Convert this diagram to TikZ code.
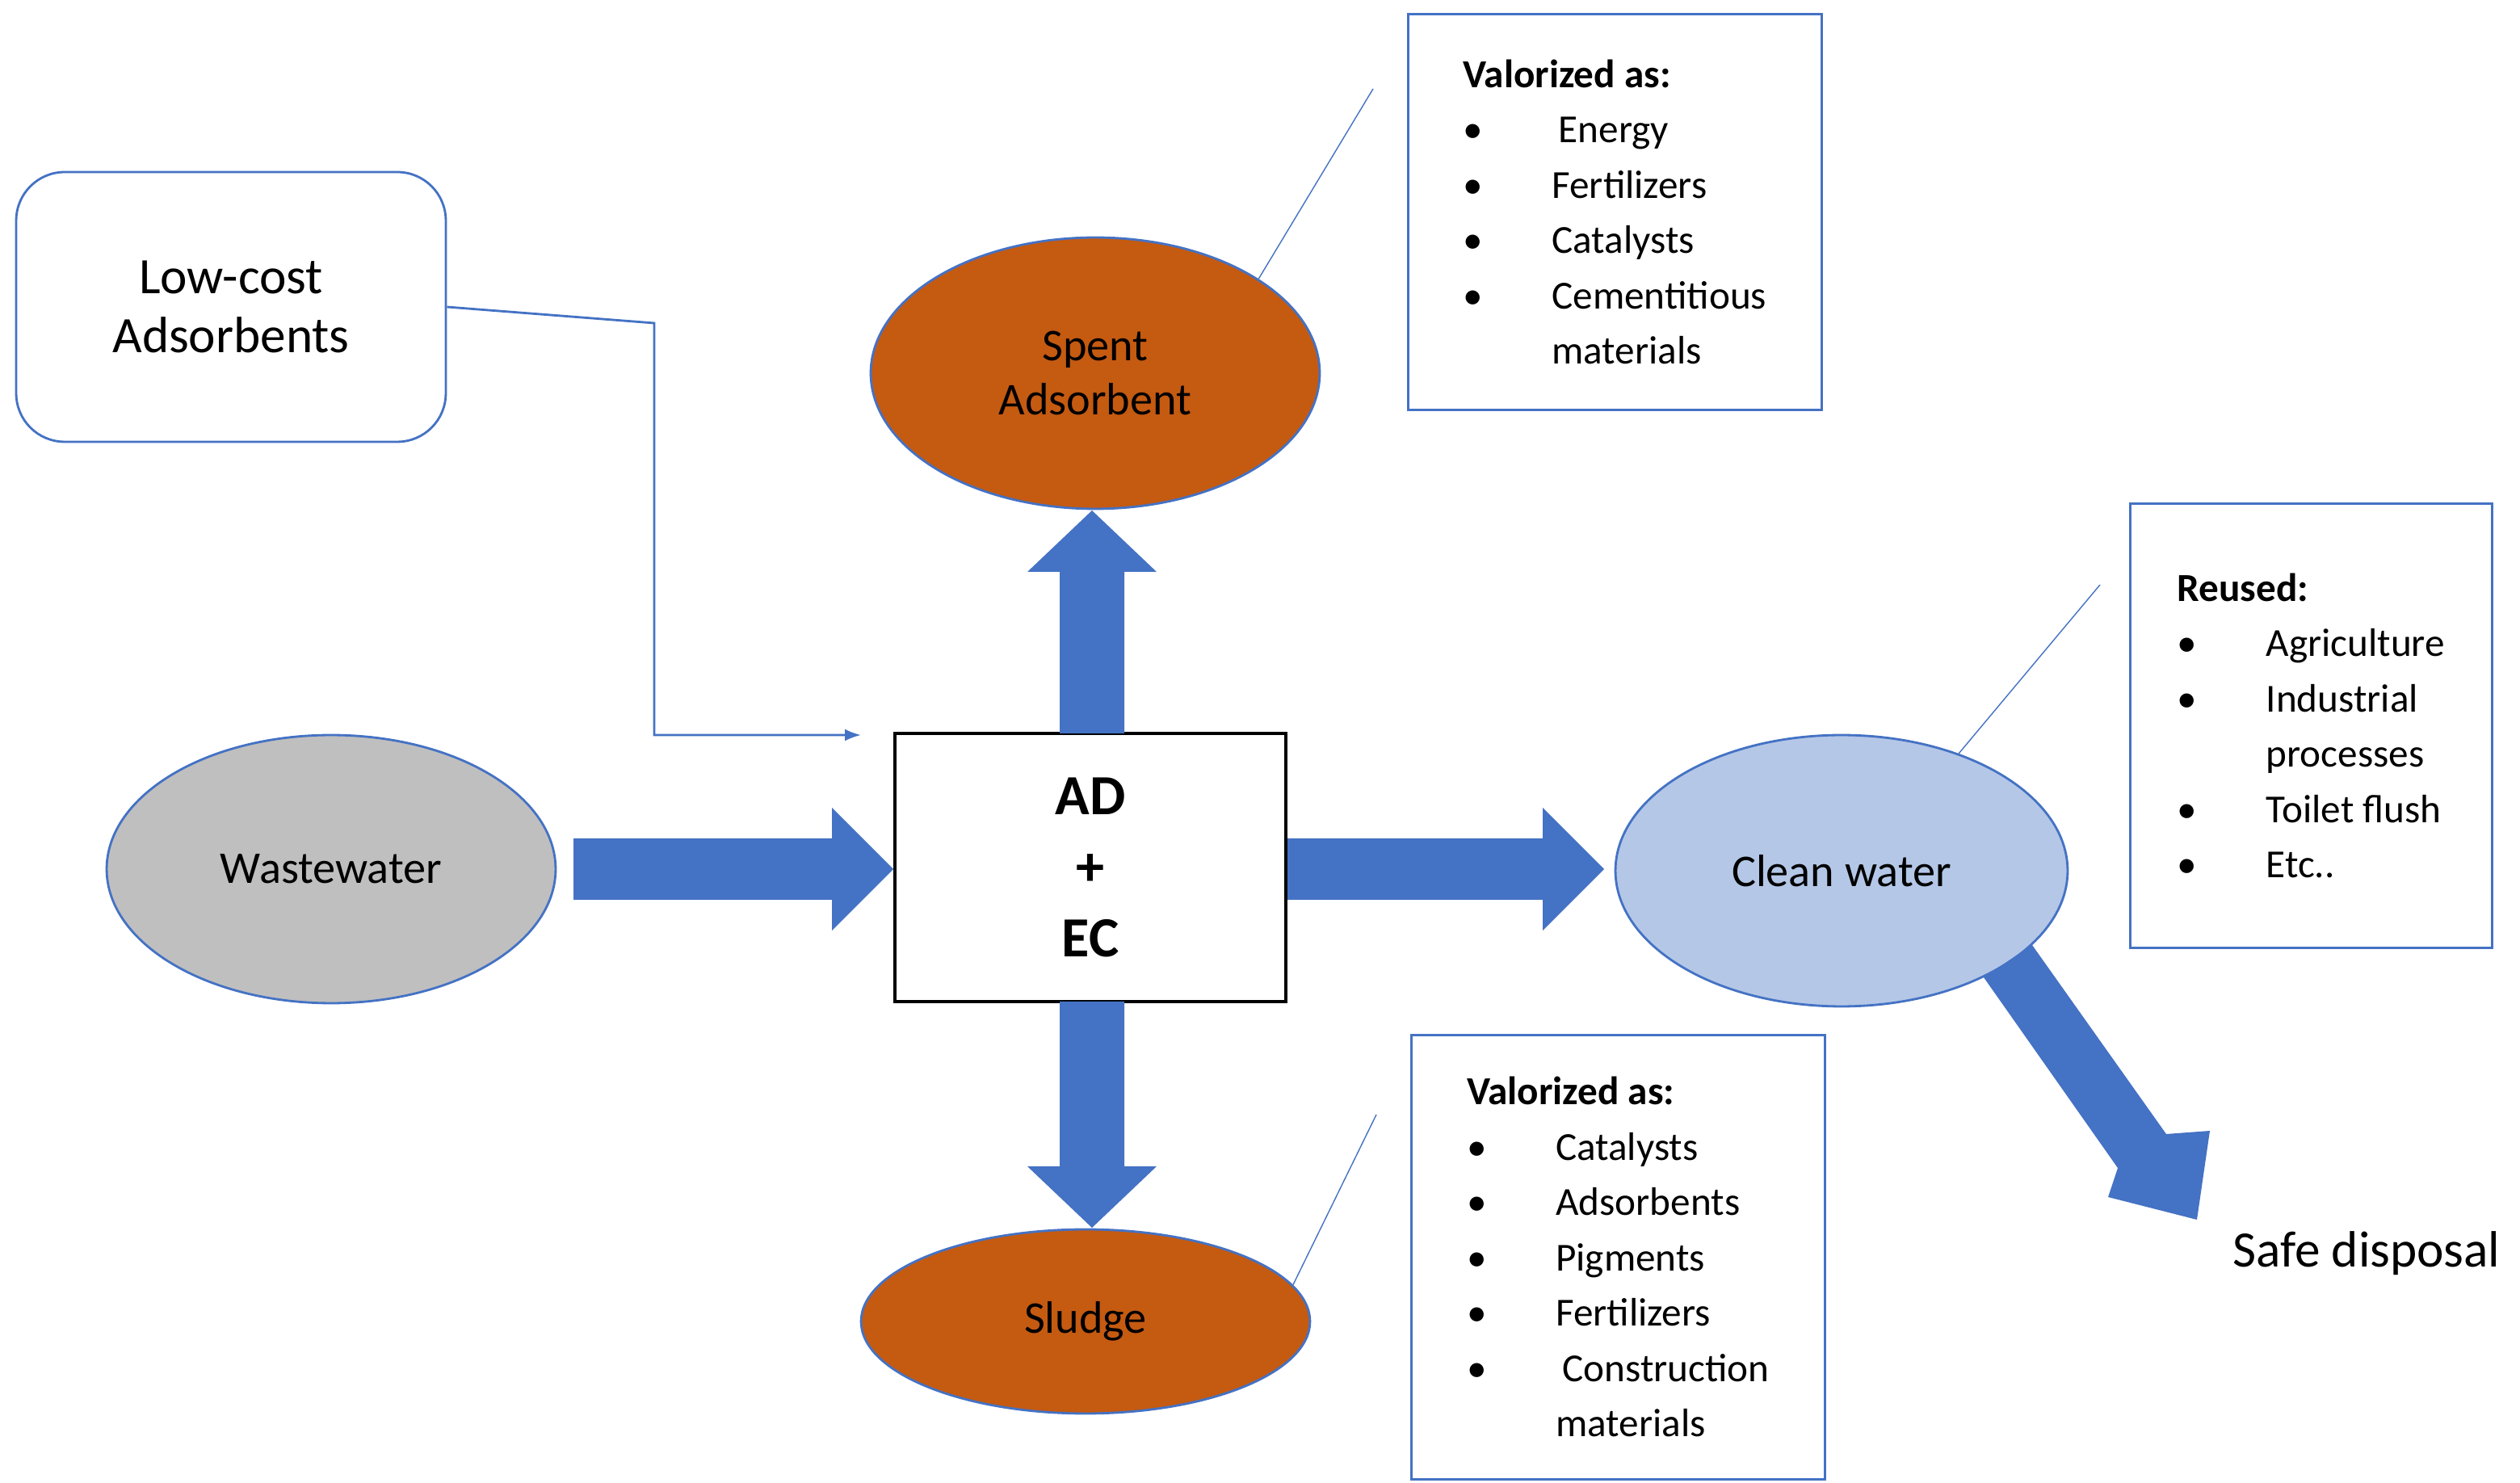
\documentclass[tikz,border=0pt]{standalone}
\usepackage{fontspec}
\setmainfont{Carlito}
\usetikzlibrary{shapes.geometric,arrows.meta}
\definecolor{arrowblue}{HTML}{4472C4}
\definecolor{rust}{HTML}{C55A11}
\definecolor{lightblue}{HTML}{B4C7E7}
\definecolor{greyfill}{HTML}{BFBFBF}
\newcommand{\bitem}[1]{\makebox[1.1cm][l]{\textbullet}#1}
\begin{document}
\begin{tikzpicture}[x=0.02cm,y=-0.02cm,
  blob/.style={ellipse,draw=arrowblue,thick,minimum width=5.56cm,font=\fontsize{16}{19}\selectfont,align=center},
  infobox/.style={draw=arrowblue,thick,anchor=north west,align=left,inner sep=0.25cm,
    font=\fontsize{14}{19.5}\selectfont},
  pointer/.style={arrowblue,thick}]

  \useasboundingbox (0,0) rectangle (1560,918);

  % Boxes and ellipses
  \node[draw=arrowblue,thick,rounded corners=0.6cm,minimum width=5.32cm,minimum height=3.34cm,
    align=center,font=\fontsize{18}{21}\selectfont] (lowcost) at (143,190) {Low-cost\\Adsorbents};
  \node[blob,fill=greyfill,minimum height=3.32cm] (waste) at (205,538) {Wastewater};
  \node[blob,fill=rust,minimum height=3.36cm] (spent) at (678,231) {Spent\\Adsorbent};
  \node[blob,fill=rust,minimum height=2.28cm] (sludge) at (672,818) {Sludge};
  \node[blob,fill=lightblue,minimum width=5.6cm,minimum height=3.36cm] (clean) at (1140,539) {Clean water};
  \node[draw,very thick,minimum width=4.84cm,minimum height=3.32cm,align=center,
    font=\bfseries\fontsize{20}{25}\selectfont] (adec) at (675,537) {AD\\+\\EC};

  % Big arrows
  \fill[arrowblue] (355,519) -- (515,519) -- (515,500) -- (553,538) -- (515,576) -- (515,557) -- (355,557) -- cycle;
  \fill[arrowblue] (797,519) -- (955,519) -- (955,500) -- (993,538) -- (955,576) -- (955,557) -- (797,557) -- cycle;
  \fill[arrowblue] (656,454) -- (656,354) -- (636,354) -- (676,316) -- (716,354) -- (696,354) -- (696,454) -- cycle;
  \fill[arrowblue] (656,620) -- (656,722) -- (636,722) -- (676,760) -- (716,722) -- (696,722) -- (696,620) -- cycle;
  \fill[arrowblue] (1228,605) -- (1258,585) -- (1341,702) -- (1368,700) -- (1360,755) -- (1305,741) -- (1311,723) -- cycle;

  % Thin connector
  \coordinate (feed) at (533,455);
  \draw[pointer,-{Latex[length=0.2cm]}] (lowcost.east) -- (405,200) -- (405,455) -- (feed);

  % Info boxes
  \node[infobox,minimum width=5.12cm,minimum height=4.9cm] (spentinfo) at (871,8)
    {\textbf{Valorized as:}\\\bitem{\,Energy}\\\bitem{Fertilizers}\\\bitem{Catalysts}\\\bitem{Cementitious}\\\hspace*{1.1cm}materials};
  \node[infobox,minimum width=4.48cm,minimum height=5.5cm,inner sep=0.45cm] (reuse) at (1318,311)
    {\textbf{Reused:}\\\bitem{Agriculture}\\\bitem{Industrial}\\\hspace*{1.1cm}processes\\\bitem{Toilet flush}\\\bitem{Etc..}};
  \node[infobox,minimum width=5.12cm,minimum height=5.5cm] (sludgeinfo) at (873,640)
    {\textbf{Valorized as:}\\\bitem{Catalysts}\\\bitem{Adsorbents}\\\bitem{Pigments}\\\bitem{Fertilizers}\\\bitem{\,Construction}\\\hspace*{1.1cm}materials};

  % Pointer lines
  \coordinate (spenttip) at (850,55);
  \coordinate (cleantip) at (1300,362);
  \coordinate (sludgetip) at (852,690);
  \draw[pointer,thin] (spent.30) -- (spenttip);
  \draw[pointer,thin] (clean.45) -- (cleantip);
  \draw[pointer,thin] (sludge.10) -- (sludgetip);

  \node[font=\fontsize{18}{21}\selectfont] (safe) at (1465,776) {Safe disposal};

\end{tikzpicture}
\end{document}
